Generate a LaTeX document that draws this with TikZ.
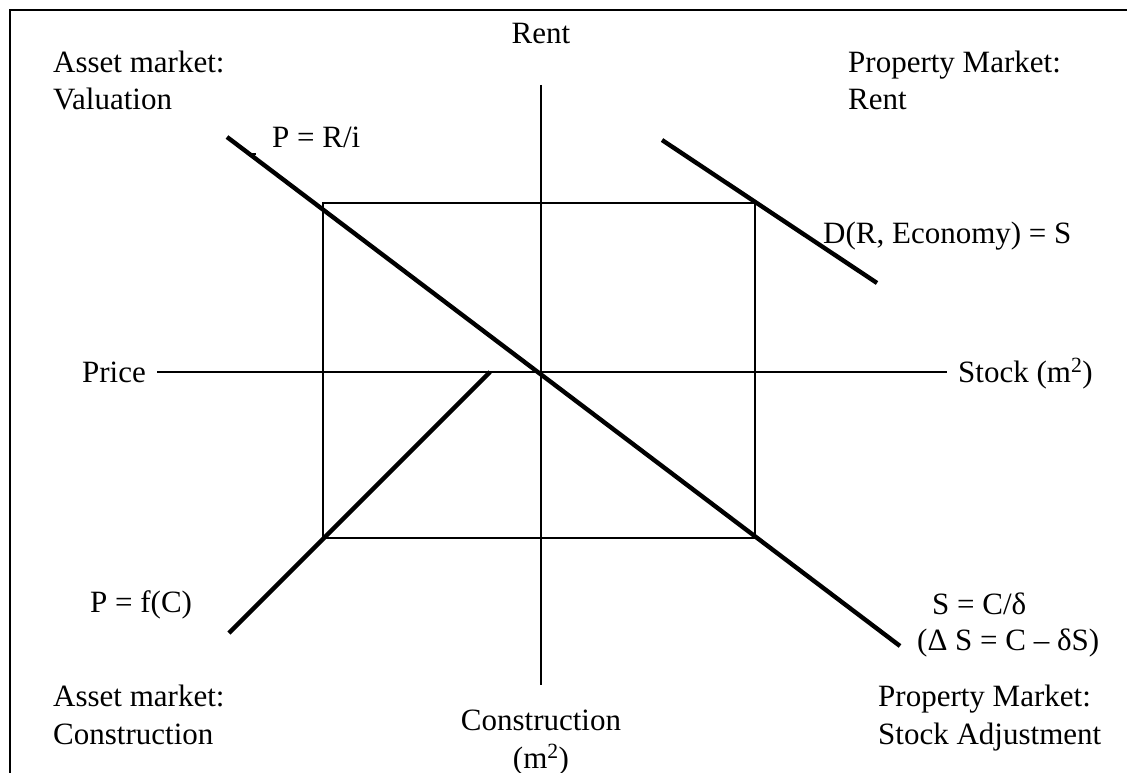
\documentclass[tikz,border=0pt]{standalone}
\usepackage{fontspec}
\setmainfont{Liberation Serif}
\begin{document}
\begin{tikzpicture}[x=1pt,y=-1pt,
  lbl/.style={inner sep=0pt, font=\fontsize{31}{36}\selectfont},
  thickline/.style={line width=4.4pt},
  axisline/.style={line width=2.2pt},
  boxline/.style={line width=1.3pt},
  frameline/.style={line width=2pt}]
\useasboundingbox (0,0) rectangle (1127,773);
% frame
\coordinate (F1) at (9.5,773);
\coordinate (F2) at (9.5,10.5);
\coordinate (F3) at (1127,10.5);
\draw[frameline] (F1) -- (F2) -- (F3);
% axes
\coordinate (H1) at (157,372);
\coordinate (H2) at (947,372);
\coordinate (V1) at (541,85);
\coordinate (V2) at (541,685);
\draw[axisline] (H1) -- (H2);
\draw[axisline] (V1) -- (V2);
% equilibrium box
\coordinate (R1) at (323,203);
\coordinate (R2) at (755,538);
\draw[boxline] (R1) rectangle (R2);
% curves
\coordinate (A1) at (227,137);
\coordinate (A2) at (900,646);
\draw[thickline] (A1) -- (A2);
\coordinate (N1) at (249,154);
\coordinate (N2) at (256,154);
\draw[line width=2pt] (N1) -- (N2);
\coordinate (B1) at (490,372);
\coordinate (B2) at (229,633);
\draw[thickline] (B1) -- (B2);
\coordinate (D1) at (662,140);
\coordinate (D2) at (877,283);
\draw[thickline] (D1) -- (D2);
% labels
\node[lbl, anchor=base] (rent) at (541,44) {Rent};
\node[lbl, anchor=base west] (am1) at (53,73) {Asset market:};
\node[lbl, anchor=base west] (am2) at (53,110) {Valuation};
\node[lbl, anchor=base west] (pri) at (272,147) {P = R/i};
\node[lbl, anchor=base west] (pm1) at (848,73) {Property Market:};
\node[lbl, anchor=base west] (pm2) at (848,110) {Rent};
\node[lbl, anchor=base west] (dre) at (823,243) {D(R, Economy) = S};
\node[lbl, anchor=base east] (price) at (146,382) {Price};
\node[lbl, anchor=base west] (stock) at (958,382) {Stock (m\textsuperscript{2})};
\node[lbl, anchor=base west] (pfc) at (90,612) {P = f(C)};
\node[lbl, anchor=base west] (scd) at (932,614) {S = C/δ};
\node[lbl, anchor=base west] (dsc) at (917,650) {(Δ S = C – δS)};
\node[lbl, anchor=base west] (ac1) at (53,706) {Asset market:};
\node[lbl, anchor=base west] (ac2) at (53,744) {Construction};
\node[lbl, anchor=base west] (ps1) at (878,706) {Property Market:};
\node[lbl, anchor=base west] (ps2) at (878,744) {Stock Adjustment};
\node[lbl, anchor=base] (con1) at (541,730) {Construction};
\node[lbl, anchor=base] (con2) at (541,768) {(m\textsuperscript{2})};
\end{tikzpicture}
\end{document}
